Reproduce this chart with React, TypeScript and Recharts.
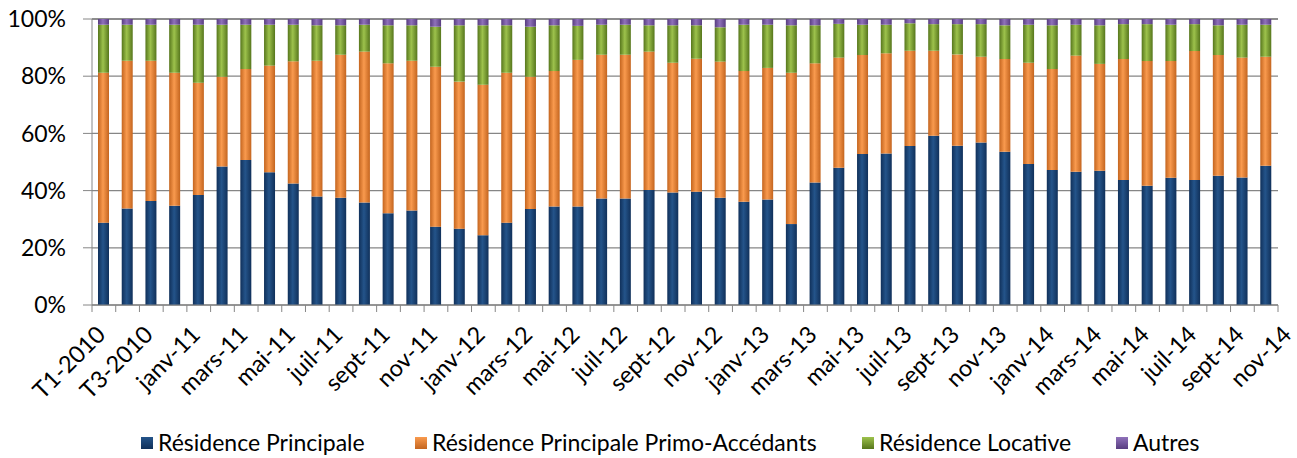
import { BarChart, Bar, XAxis, YAxis, CartesianGrid } from "recharts";

const months = [
  "T1-2010", "T2-2010", "T3-2010", "T4-2010",
  "janv-11", "févr-11", "mars-11", "avr-11", "mai-11", "juin-11", "juil-11", "août-11", "sept-11", "oct-11", "nov-11", "déc-11",
  "janv-12", "févr-12", "mars-12", "avr-12", "mai-12", "juin-12", "juil-12", "août-12", "sept-12", "oct-12", "nov-12", "déc-12",
  "janv-13", "févr-13", "mars-13", "avr-13", "mai-13", "juin-13", "juil-13", "août-13", "sept-13", "oct-13", "nov-13", "déc-13",
  "janv-14", "févr-14", "mars-14", "avr-14", "mai-14", "juin-14", "juil-14", "août-14", "sept-14", "oct-14",
];

// labels printed under the axis (one every two bars)
const tickLabels = [
  "T1-2010", "T3-2010", "janv-11", "mars-11", "mai-11", "juil-11", "sept-11", "nov-11",
  "janv-12", "mars-12", "mai-12", "juil-12", "sept-12", "nov-12", "janv-13", "mars-13",
  "mai-13", "juil-13", "sept-13", "nov-13", "janv-14", "mars-14", "mai-14", "juil-14",
  "sept-14", "nov-14",
];

const residencePrincipale = [
  28.8, 33.7, 36.4, 34.7, 38.5, 48.4, 50.7, 46.4, 42.5, 37.9,
  37.5, 35.8, 32.1, 33.0, 27.4, 26.7, 24.4, 28.8, 33.6, 34.4,
  34.4, 37.2, 37.2, 40.2, 39.3, 39.6, 37.5, 36.1, 36.9, 28.3,
  42.8, 48.0, 52.8, 53.0, 55.6, 59.2, 55.7, 56.8, 53.6, 49.3,
  47.2, 46.6, 46.9, 43.7, 41.7, 44.5, 43.7, 45.2, 44.6, 48.7,
];
const primoAccedants = [
  52.4, 51.7, 49.0, 46.5, 39.2, 31.4, 31.8, 37.3, 42.7, 47.5,
  50.0, 52.8, 52.4, 52.4, 55.9, 51.4, 52.6, 52.4, 46.2, 47.4,
  51.3, 50.3, 50.3, 48.4, 45.4, 46.5, 47.6, 45.7, 46.0, 52.9,
  41.7, 38.5, 34.6, 35.0, 33.3, 29.7, 31.9, 30.0, 32.4, 35.4,
  35.3, 40.6, 37.4, 42.3, 43.6, 40.8, 45.1, 42.2, 41.9, 38.1,
];
const residenceLocative = [
  16.8, 12.6, 12.6, 16.8, 20.3, 18.2, 15.5, 14.3, 12.8, 12.4,
  10.3, 9.4, 13.3, 12.4, 14.0, 19.7, 20.8, 16.6, 17.5, 16.0,
  11.9, 10.5, 10.5, 9.2, 13.1, 11.7, 12.0, 16.2, 15.1, 16.6,
  13.3, 11.8, 10.6, 10.0, 9.6, 9.3, 10.6, 11.4, 11.8, 13.3,
  15.3, 10.8, 13.5, 12.2, 12.9, 12.7, 9.4, 10.4, 11.5, 11.2,
];
const autres = [
  2.0, 2.0, 2.0, 2.0, 2.0, 2.0, 2.0, 2.0, 2.0, 2.2,
  2.2, 2.0, 2.2, 2.2, 2.7, 2.2, 2.2, 2.2, 2.7, 2.2,
  2.4, 2.0, 2.0, 2.2, 2.2, 2.2, 2.9, 2.0, 2.0, 2.2,
  2.2, 1.7, 2.0, 2.0, 1.5, 1.8, 1.8, 1.8, 2.2, 2.0,
  2.2, 2.0, 2.2, 1.8, 1.8, 2.0, 1.8, 2.2, 2.0, 2.0,
];

const yTicks = [0, 20, 40, 60, 80, 100];

const series = [
  { key: "rp", name: "Résidence Principale", dark: "#10305a", light: "#24548a" },
  { key: "primo", name: "Résidence Principale Primo-Accédants", dark: "#c4651f", light: "#f99a4e" },
  { key: "loc", name: "Résidence Locative", dark: "#56761c", light: "#9dc24c" },
  { key: "autres", name: "Autres", dark: "#583d80", light: "#8f71ba" },
];

const data = months.map((m, i) => ({
  name: m,
  rp: residencePrincipale[i],
  primo: primoAccedants[i],
  loc: residenceLocative[i],
  autres: autres[i],
}));

const W = 1297;
const H = 458;
const PLOT_LEFT = 92;
const PLOT_RIGHT = 19;
const STEP = (W - PLOT_LEFT - PLOT_RIGHT) / months.length;
const FONT = "Lato, 'Open Sans', sans-serif";
const AXIS = "#868686";

const Label = ({ x, y, text }: { x: number; y: number; text: string }) => (
  <text
    transform={`translate(${x + 3},${y + 31}) rotate(-45)`}
    textAnchor="end"
    fontFamily={FONT}
    fontSize={23.5}
    fill="#000"
  >
    {text}
  </text>
);

const XTick = (props: any) => {
  const { x, y, payload } = props;
  const i = payload.index as number;
  const last = i === months.length - 1;
  return (
    <g>
      <line x1={x - STEP / 2} x2={x - STEP / 2} y1={y} y2={y + 7} stroke={AXIS} />
      {last && <line x1={x + STEP / 2} x2={x + STEP / 2} y1={y} y2={y + 7} stroke={AXIS} />}
      {i % 2 === 0 && <Label x={x} y={y} text={tickLabels[i / 2]} />}
      {last && <Label x={x + STEP} y={y} text={tickLabels[tickLabels.length - 1]} />}
    </g>
  );
};

const legendLeft = [141, 415, 862, 1116];

export default function App() {
  return (
    <div style={{ position: "absolute", left: 0, top: 0, width: W, height: H }}>
      <BarChart
        width={W}
        height={H}
        data={data}
        margin={{ top: 19, right: PLOT_RIGHT, left: 0, bottom: 73 }}
        barSize={11}
      >
        <defs>
          {series.map((s) => (
            <linearGradient key={s.key} id={`g-${s.key}`} x1="0" y1="0" x2="1" y2="0">
              <stop offset="0%" stopColor={s.dark} />
              <stop offset="45%" stopColor={s.light} />
              <stop offset="100%" stopColor={s.dark} />
            </linearGradient>
          ))}
        </defs>
        <CartesianGrid vertical={false} stroke={AXIS} strokeWidth={1.3} />
        <XAxis
          dataKey="name"
          interval={0}
          height={80}
          tickLine={false}
          tickSize={0}
          tickMargin={0}
          stroke={AXIS}
          tick={XTick}
        />
        <YAxis
          width={PLOT_LEFT}
          domain={[0, 100]}
          ticks={yTicks}
          tickFormatter={(v: number) => `${v}%`}
          stroke={AXIS}
          tickSize={9}
          tickMargin={17}
          tick={{ fill: "#000", fontSize: 23, fontFamily: FONT }}
        />
        {series.map((s) => (
          <Bar
            key={s.key}
            dataKey={s.key}
            name={s.name}
            stackId="a"
            fill={`url(#g-${s.key})`}
            isAnimationActive={false}
          />
        ))}
      </BarChart>
      {series.map((s, i) => (
        <div
          key={s.key}
          style={{
            position: "absolute",
            left: legendLeft[i],
            top: 429,
            display: "flex",
            alignItems: "center",
            fontFamily: FONT,
            fontSize: 23,
            lineHeight: "27px",
            whiteSpace: "nowrap",
          }}
        >
          <span
            style={{
              display: "inline-block",
              width: 12,
              height: 12,
              marginRight: 5,
              background: `linear-gradient(to bottom, ${s.light}, ${s.dark})`,
            }}
          />
          {s.name}
        </div>
      ))}
    </div>
  );
}
